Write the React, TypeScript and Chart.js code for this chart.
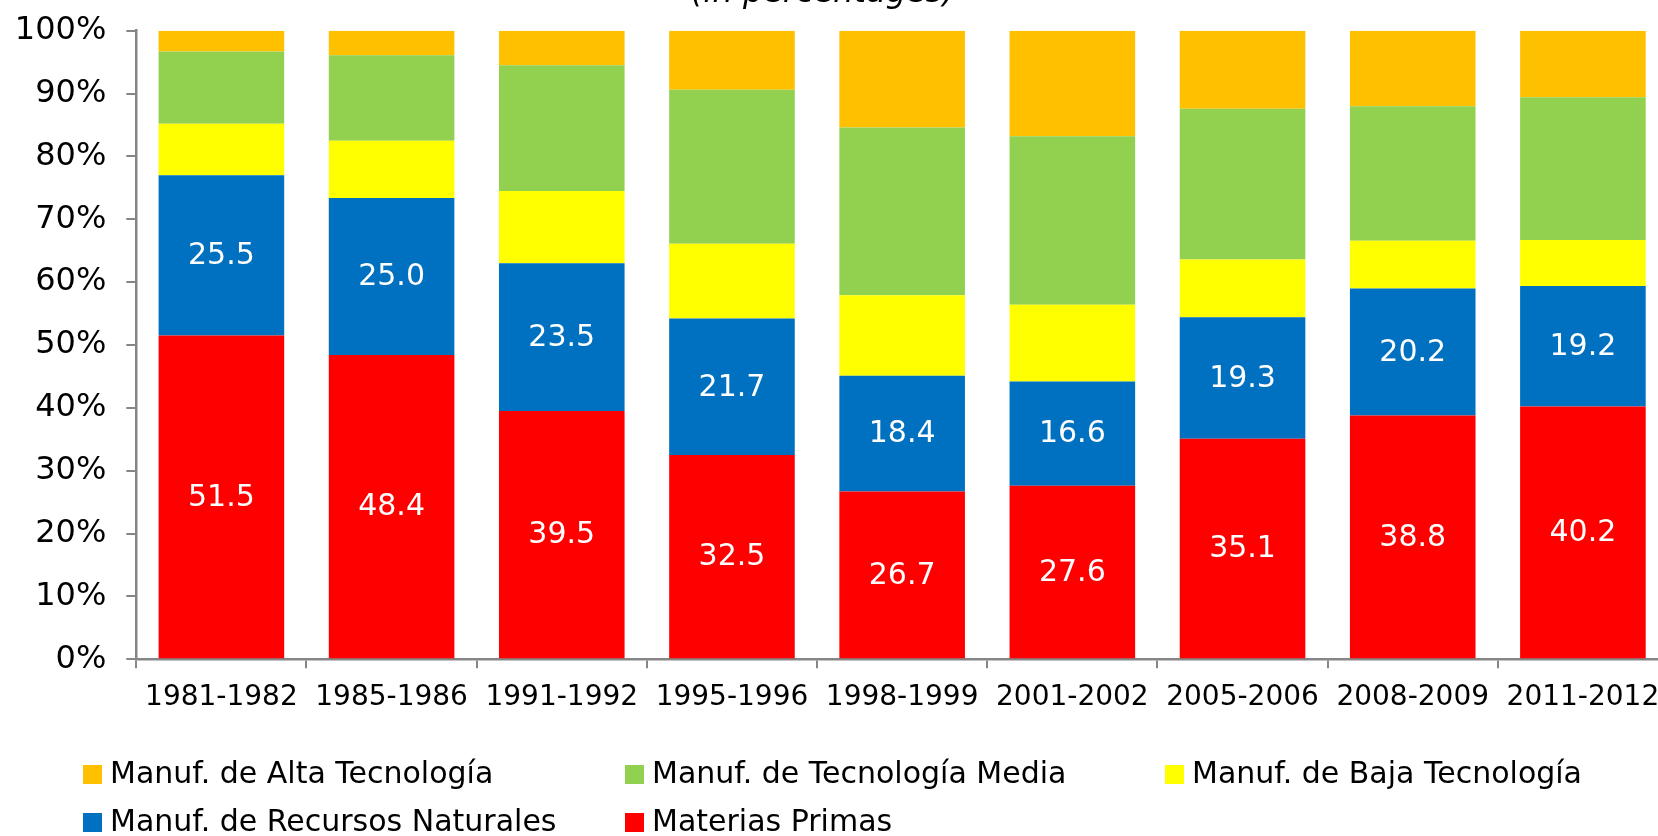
import React, { useEffect, useRef } from "react";
import { Chart, registerables } from "chart.js";

Chart.register(...registerables);

const categories = ["1981-1982", "1985-1986", "1991-1992", "1995-1996", "1998-1999", "2001-2002", "2005-2006", "2008-2009", "2011-2012"];
const materiasPrimas = [51.5, 48.4, 39.5, 32.5, 26.7, 27.6, 35.1, 38.8, 40.2];
const recursosNaturales = [25.5, 25.0, 23.5, 21.7, 18.4, 16.6, 19.3, 20.2, 19.2];
const bajaTecnologia = [8.2, 9.1, 11.5, 11.9, 12.8, 12.2, 9.2, 7.6, 7.3];
const tecnologiaMedia = [11.5, 13.6, 20.0, 24.5, 26.7, 26.8, 24.0, 21.4, 22.7];
const altaTecnologia = [3.3, 3.9, 5.5, 9.4, 15.4, 16.8, 12.4, 12.0, 10.6];
const yTicks = [0, 10, 20, 30, 40, 50, 60, 70, 80, 90, 100];
const titleText = "(in percentages)";

const FONT = "'DejaVu Sans', sans-serif";
const C_RED = "#FF0000";
const C_BLUE = "#0070C0";
const C_YELLOW = "#FFFF00";
const C_GREEN = "#92D050";
const C_ORANGE = "#FFC000";

const legendItems = [
  { label: "Manuf. de Alta Tecnología", color: C_ORANGE, col: 0, row: 0 },
  { label: "Manuf. de Tecnología Media", color: C_GREEN, col: 1, row: 0 },
  { label: "Manuf. de Baja Tecnología", color: C_YELLOW, col: 2, row: 0 },
  { label: "Manuf. de Recursos Naturales", color: C_BLUE, col: 0, row: 1 },
  { label: "Materias Primas", color: C_RED, col: 1, row: 1 },
];

const CANVAS_W = 1680;
const CANVAS_H = 836;

export default function App() {
  const ref = useRef<HTMLCanvasElement | null>(null);

  useEffect(() => {
    if (!ref.current) return;

    const extras = {
      id: "extras",
      afterDraw(chart: any) {
        const ctx = chart.ctx;
        ctx.save();
        ctx.fillStyle = "#000";
        ctx.font = `oblique 32px ${FONT}`;
        ctx.textAlign = "center";
        ctx.textBaseline = "alphabetic";
        ctx.fillText(titleText, 823, 2);
        const colBox = [83, 625, 1165];
        const rowY = [774.5, 822.5];
        ctx.font = `30px ${FONT}`;
        ctx.textAlign = "left";
        ctx.textBaseline = "middle";
        legendItems.forEach((it) => {
          const x = colBox[it.col];
          const y = rowY[it.row];
          ctx.fillStyle = it.color;
          ctx.fillRect(x, y - 9.5, 19, 19);
          ctx.fillStyle = "#000";
          ctx.fillText(it.label, x + 27, y + 1);
        });
        ctx.restore();
      },
      afterDatasetsDraw(chart: any) {
        const ctx = chart.ctx;
        ctx.save();
        ctx.fillStyle = "#FFFFFF";
        ctx.font = `30px ${FONT}`;
        ctx.textAlign = "center";
        ctx.textBaseline = "middle";
        [0, 1].forEach((di) => {
          const meta = chart.getDatasetMeta(di);
          const data = chart.data.datasets[di].data as number[];
          meta.data.forEach((el: any, i: number) => {
            const y = (el.y + el.base) / 2;
            ctx.fillText(data[i].toFixed(1), el.x, y + 1);
          });
        });
        ctx.restore();
      },
    };

    const chart = new Chart(ref.current, {
      type: "bar",
      data: {
        labels: categories,
        datasets: [
          { label: "Materias Primas", data: materiasPrimas, backgroundColor: C_RED },
          { label: "Manuf. de Recursos Naturales", data: recursosNaturales, backgroundColor: C_BLUE },
          { label: "Manuf. de Baja Tecnología", data: bajaTecnologia, backgroundColor: C_YELLOW },
          { label: "Manuf. de Tecnología Media", data: tecnologiaMedia, backgroundColor: C_GREEN },
          { label: "Manuf. de Alta Tecnología", data: altaTecnologia, backgroundColor: C_ORANGE },
        ],
      },
      options: {
        responsive: false,
        maintainAspectRatio: false,
        animation: false,
        devicePixelRatio: 1,
        layout: { padding: { top: 30.7, right: CANVAS_W - 1668, bottom: 0, left: 0 } },
        datasets: { bar: { barPercentage: 0.738, categoryPercentage: 1.0, borderWidth: 0 } },
        plugins: {
          legend: { display: false },
          title: { display: false },
          tooltip: { enabled: false },
        },
        scales: {
          x: {
            stacked: true,
            grid: { display: true, drawOnChartArea: false, drawTicks: true, tickLength: 9, color: "#868686", lineWidth: 2 },
            border: { display: true, color: "#868686", width: 2.5 },
            ticks: { color: "#000", font: { family: FONT, size: 28 }, padding: 13, maxRotation: 0, autoSkip: false },
            afterFit: (s: any) => { s.height = CANVAS_H - 659.3; s.paddingLeft = 0; s.paddingRight = 0; },
          },
          y: {
            stacked: true,
            min: 0,
            max: 100,
            afterBuildTicks: (s: any) => { s.ticks = yTicks.map((v) => ({ value: v })); },
            grid: { display: true, drawOnChartArea: false, drawTicks: true, tickLength: 10, color: "#868686", lineWidth: 2 },
            border: { display: true, color: "#868686", width: 2.5 },
            ticks: { color: "#000", font: { family: FONT, size: 32 }, padding: 20, callback: (v: any) => `${v}%` },
            afterFit: (s: any) => { s.width = 136.3; s.paddingTop = 0; s.paddingBottom = 0; },
          },
        },
      },
      plugins: [extras],
    });
    return () => chart.destroy();
  }, []);

  return (
    <div style={{ position: "fixed", left: 0, top: 0, width: 1658, height: 836, overflow: "hidden", background: "#fff" }}>
      <canvas ref={ref} width={CANVAS_W} height={CANVAS_H} style={{ position: "absolute", left: 0, top: 0, width: CANVAS_W, height: CANVAS_H }} />
    </div>
  );
}
